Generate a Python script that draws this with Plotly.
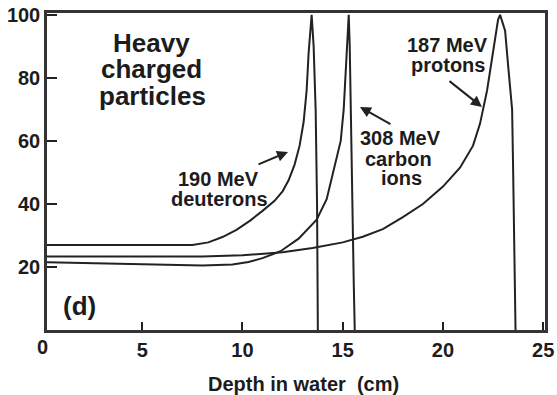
import plotly.graph_objects as go

# ---- data ----
deut_x = [0, 7.5, 8.3, 9.0, 9.7, 10.4, 11.0, 11.6, 12.0, 12.3, 12.6, 12.85, 13.05, 13.2, 13.3, 13.4, 13.45, 13.55, 13.65, 13.72, 13.76]
deut_y = [27, 27, 27.8, 29.5, 31.8, 34.8, 37.8, 41, 44, 47.5, 52.5, 58.5, 66, 76, 88, 98.5, 100, 90, 70, 40, 0]

carb_x = [0, 3, 6, 8, 9.5, 10.3, 11.0, 11.9, 12.8, 13.7, 14.2, 14.6, 14.9, 15.05, 15.15, 15.25, 15.3, 15.35, 15.42, 15.47, 15.55, 15.6]
carb_y = [21.5, 21.2, 20.8, 20.5, 20.8, 21.6, 22.8, 25, 29, 35, 41.5, 52, 60, 70, 82, 95, 100, 90, 60, 40, 15, 0]

prot_x = [0, 4, 8, 10, 12, 13.5, 15, 16, 17, 18, 19, 20, 20.85, 21.5, 21.85, 22.2, 22.5, 22.75, 22.85, 23.1, 23.25, 23.45, 23.5, 23.58, 23.62]
prot_y = [23.3, 23.2, 23.3, 23.7, 24.7, 26, 27.8, 29.6, 32, 35.8, 40, 45.5, 51.5, 58.5, 65.5, 76, 88, 98.5, 100, 95, 84, 70, 51, 25, 0]

x_ticks = [0, 5, 10, 15, 20, 25]
y_ticks = [20, 40, 60, 80, 100]
x_title = "Depth in water\u00a0\u00a0(cm)"

FONT = "Liberation Sans, Arial, Helvetica, sans-serif"
INK = "#1c1c1c"
LINE = "#222222"

fig = go.Figure()
for xs, ys in [(deut_x, deut_y), (carb_x, carb_y), (prot_x, prot_y)]:
    fig.add_trace(go.Scatter(x=xs, y=ys, mode="lines",
                             line=dict(color=LINE, width=2), showlegend=False,
                             hoverinfo="skip"))

def txt(x, y, s, size, xref="x", yref="y"):
    fig.add_annotation(x=x, y=y, xref=xref, yref=yref, text=s, showarrow=False,
                       font=dict(family=FONT, size=size, color=INK, weight="bold"),
                       xanchor="center", yanchor="middle")

# helpers to place labels by their pixel estimates in the reference
def cx(px):
    return (px - 42) / 20.05

def cy(py):
    return (330 - py) / 3.15

txt(cx(152), cy(43), "Heavy", 26)
txt(cx(152), cy(69), "charged", 26)
txt(cx(153), cy(96), "particles", 26)

txt(cx(219), cy(179), "190 MeV", 20)
txt(cx(220), cy(199), "deuterons", 20)

txt(cx(401), cy(138), "308 MeV", 20)
txt(cx(399), cy(159), "carbon", 20)
txt(cx(402), cy(178), "ions", 20)

txt(cx(448), cy(45), "187 MeV", 20)
txt(cx(448), cy(65), "protons", 20)

txt(cx(80), cy(306), "(d)", 26)

def arrow(hx, hy, tx, ty):
    fig.add_annotation(x=cx(hx), y=cy(hy), xref="x", yref="y", text="",
                       showarrow=True, ax=tx - hx, ay=ty - hy,
                       arrowhead=2, arrowsize=1.1, arrowwidth=2, arrowcolor=LINE)

arrow(288, 152, 257, 165)
arrow(360, 107, 392, 125)
arrow(482, 107, 448, 80)

# the "0" label sits slightly left of the frame, outside the axis range
fig.add_annotation(x=(42 - 47) / 498, y=0, xref="paper", yref="paper", yshift=-17, text="0",
                   showarrow=False, xanchor="center", yanchor="middle",
                   font=dict(family=FONT, size=20, color=INK, weight="bold"))

# axis title
fig.add_annotation(x=(303.5 - 47) / 498, y=0, xref="paper", yref="paper",
                   yshift=-54, text=x_title, showarrow=False,
                   font=dict(family=FONT, size=20, color=INK, weight="bold"),
                   xanchor="center", yanchor="middle")

fig.update_xaxes(range=[0.25, 25.09], tickvals=x_ticks[1:], ticktext=[str(v) for v in x_ticks[1:]],
                 ticks="inside", ticklen=8, tickwidth=2, tickcolor=LINE,
                 showline=True, linewidth=2.5, linecolor="#333", mirror=True,
                 showgrid=False, zeroline=False, ticklabelstandoff=0, automargin=False,
                 tickfont=dict(family=FONT, size=20, color=INK, weight="bold"))
fig.update_yaxes(range=[0, 100.6], tickvals=y_ticks, ticktext=[str(v) for v in y_ticks],
                 ticks="inside", ticklen=10, tickwidth=2, tickcolor=LINE,
                 showline=True, linewidth=2.5, linecolor="#333", mirror=True,
                 showgrid=False, zeroline=False, ticklabelstandoff=0, automargin=False,
                 tickfont=dict(family=FONT, size=20, color=INK, weight="bold"))

fig.update_layout(width=557, height=395, margin=dict(l=47, r=12, t=13, b=65, autoexpand=False),
                  paper_bgcolor="white", plot_bgcolor="white")

fig.write_html("out.html", config={"displayModeBar": False},
               post_script="document.body.style.margin='0';document.body.style.overflow='hidden';")
